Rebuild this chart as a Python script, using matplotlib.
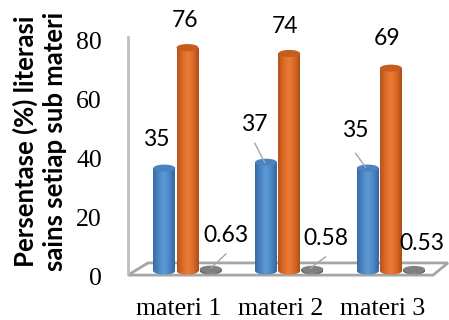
import numpy as np
import matplotlib
matplotlib.use('Agg')
from matplotlib import pyplot as plt
from matplotlib.colors import LinearSegmentedColormap
from matplotlib.patches import Ellipse, Polygon, Rectangle
from matplotlib.transforms import ScaledTranslation


CATEGORIES = ['materi 1', 'materi 2', 'materi 3']
SERIES_A = [35, 37, 35]
SERIES_B = [76, 74, 69]
SERIES_C = [0.63, 0.58, 0.53]
Y_TICKS = [0, 20, 40, 60, 80]
Y_LABEL = 'Persentase (%) literasi\nsains setiap sub materi'

# body shading (dark edge, mid, highlight, mid, dark edge) and cap colour per series
STYLES = [
    (['#3b6ba2', '#4a86c4', '#5d9bd6', '#4a86c4', '#37669c'], '#4a83c0'),
    (['#b5541b', '#dc6a28', '#ea7b36', '#dc6a28', '#ab4f18'], '#c65d1e'),
    (['#5a5a5a', '#7a7a7a', '#929292', '#7a7a7a', '#555555'], '#808080'),
]
OFFSETS = [-0.228, 0.0, 0.228]
BAR_W = 0.215
CAP_H = 2.4          # cap ellipse height, in value units

fig = plt.figure(figsize=(4.49, 3.2), dpi=100)
ax = fig.add_axes([120 / 449, 30 / 320, 329 / 449, 290 / 320])
ax.set_xlim(-0.663, 2.57)
ax.set_ylim(-6.46, 92.18)
for s in ax.spines.values():
    s.set_visible(False)
ax.set_xticks([])

# floor and left wall edge
floor = Polygon([(-0.585, -1.4), (2.413, -1.4), (2.56, 2.75), (-0.388, 2.75)],
                closed=True, facecolor='white', edgecolor='#a6a6a6', lw=2, zorder=1)
ax.add_patch(floor)
ax.plot([-0.585, -0.585], [-0.7, 79.6], color='#bfbfbf', lw=2, zorder=1)


def cylinder(x, h, colors, cap):
    cmap = LinearSegmentedColormap.from_list('shade', colors)
    grad = np.linspace(0, 1, 64).reshape(1, -1)
    x0, x1 = x - BAR_W / 2, x + BAR_W / 2
    body = Rectangle((x0, 0), BAR_W, h, transform=ax.transData)
    im = ax.imshow(grad, cmap=cmap, extent=[x0, x1, -CAP_H, h], aspect='auto',
                   zorder=3, interpolation='bilinear')
    im.set_clip_path(body)
    base = Ellipse((x, 0), BAR_W, CAP_H, transform=ax.transData)
    im2 = ax.imshow(grad, cmap=cmap, extent=[x0, x1, -CAP_H, h], aspect='auto',
                    zorder=3, interpolation='bilinear')
    im2.set_clip_path(base)
    ax.add_patch(Ellipse((x, h), BAR_W, CAP_H, facecolor=cap,
                         edgecolor='none', zorder=4))


for i in range(len(CATEGORIES)):
    for k, vals in enumerate([SERIES_A, SERIES_B, SERIES_C]):
        cylinder(i + OFFSETS[k], vals[i], *STYLES[k])

# value labels with leader lines where the label sits off the bar
lab_font = dict(family='Lato', fontsize=16.5, color='black', ha='center', va='center', zorder=6)
label_pos = {
    'A': [(-0.309, 44.6), (0.660, 50.0), (1.651, 47.8)],
    'B': [(-0.025, 85.3), (0.963, 83.0), (1.960, 79.0)],
    'C': [(0.378, 12.2), (1.356, 11.2), (2.305, 9.5)],
}
for vals, key in [(SERIES_A, 'A'), (SERIES_B, 'B'), (SERIES_C, 'C')]:
    for i, v in enumerate(vals):
        lx, ly = label_pos[key][i]
        ax.text(lx, ly, f'{v:g}', **lab_font)

leaders = [
    ([0.661, 0.760], [43.5, 36.8]),
    ([1.653, 1.750], [40.0, 35.3]),
    ([0.378, 0.230], [5.8, 1.0]),
    ([1.356, 1.210], [4.8, 1.0]),
]
for lx, ly in leaders:
    ax.plot(lx, ly, color='#a6a6a6', lw=1, zorder=5)

# category labels
for i, name in enumerate(CATEGORIES):
    ax.text(i - 0.085, -15.0, name, family='Liberation Serif', fontsize=18.5,
            ha='center', va='baseline', clip_on=False)

ax.set_yticks(Y_TICKS)
ax.set_yticklabels([str(t) for t in Y_TICKS], family='Liberation Serif', fontsize=18.5)
ax.tick_params(axis='y', length=0, pad=13)
for lab in ax.get_yticklabels():
    lab.set_transform(lab.get_transform() + ScaledTranslation(0, -5 / 100, fig.dpi_scale_trans))

fig.text(40 / 449, 1 - 141 / 320, Y_LABEL, family='Lato', fontweight='bold', fontsize=18.5,
         rotation=90, ha='center', va='center', multialignment='center', linespacing=1.25)

fig.savefig('out.png', dpi=100)
